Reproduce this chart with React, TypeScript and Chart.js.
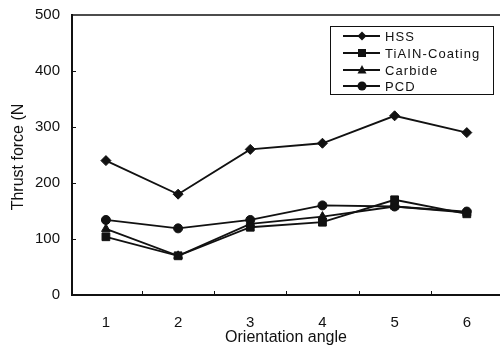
import React, { useEffect, useRef } from "react";
import { Chart, registerables } from "chart.js";

Chart.register(...registerables);

const categories = [1, 2, 3, 4, 5, 6];
const hss = [240, 180, 260, 271, 320, 290];
const tialn = [104, 70, 121, 130, 170, 145];
const carbide = [118, 70, 127, 140, 158, 147];
const pcd = [134, 119, 134, 160, 158, 149];
const yTicks = [0, 100, 200, 300, 400, 500];
const seriesNames = ["HSS", "TiAIN-Coating", "Carbide", "PCD"];
const xTitle = "Orientation angle";
const yTitle = "Thrust force (N";

const INK = "#111111";
const FONT = "'Liberation Sans', Arial, sans-serif";

function drawMarker(ctx: CanvasRenderingContext2D, style: string, x: number, y: number) {
  ctx.beginPath();
  if (style === "rectRot") {
    const r = 4.5;
    ctx.moveTo(x, y - r);
    ctx.lineTo(x + r, y);
    ctx.lineTo(x, y + r);
    ctx.lineTo(x - r, y);
    ctx.closePath();
  } else if (style === "rect") {
    ctx.rect(x - 4, y - 4, 8, 8);
  } else if (style === "triangle") {
    ctx.moveTo(x, y - 5);
    ctx.lineTo(x + 4.5, y + 3.5);
    ctx.lineTo(x - 4.5, y + 3.5);
    ctx.closePath();
  } else {
    ctx.arc(x, y, 4.5, 0, Math.PI * 2);
  }
  ctx.fill();
}

const decorPlugin = {
  id: "decor",
  afterDraw(chart: any) {
    const ctx: CanvasRenderingContext2D = chart.ctx;
    const { left, right, top, bottom } = chart.chartArea;
    const xs = chart.scales.x;
    const ys = chart.scales.y;
    ctx.save();
    ctx.strokeStyle = INK;
    ctx.fillStyle = INK;
    // top border
    ctx.lineWidth = 1.5;
    ctx.beginPath();
    ctx.moveTo(left, top);
    ctx.lineTo(right, top);
    ctx.stroke();
    // inward ticks
    ctx.lineWidth = 1;
    ctx.beginPath();
    for (const v of yTicks.slice(1, -1)) {
      const py = Math.round(ys.getPixelForValue(v)) + 0.5;
      ctx.moveTo(left, py);
      ctx.lineTo(left + 4, py);
    }
    for (let i = 0; i < categories.length - 1; i++) {
      const px = Math.round(xs.getPixelForValue((categories[i] + categories[i + 1]) / 2)) + 0.5;
      ctx.moveTo(px, bottom);
      ctx.lineTo(px, bottom - 4);
    }
    ctx.stroke();
    // axis titles
    ctx.font = `16px ${FONT}`;
    ctx.textAlign = "center";
    ctx.textBaseline = "middle";
    ctx.fillText(xTitle, (left + right) / 2, 338);
    ctx.save();
    ctx.translate(19, 157);
    ctx.rotate(-Math.PI / 2);
    ctx.fillText(yTitle, 0, 0);
    ctx.restore();
    // legend
    ctx.fillStyle = "#ffffff";
    ctx.fillRect(330, 26, 163, 68);
    ctx.strokeStyle = INK;
    ctx.lineWidth = 1;
    ctx.strokeRect(330.5, 26.5, 163, 68);
    const rows = [36, 53, 70, 86];
    ctx.font = `13px ${FONT}`;
    (ctx as any).letterSpacing = "1.1px";
    ctx.textAlign = "left";
    chart.data.datasets.forEach((ds: any, i: number) => {
      const y = rows[i];
      ctx.strokeStyle = INK;
      ctx.fillStyle = INK;
      ctx.lineWidth = 1.8;
      ctx.beginPath();
      ctx.moveTo(343, y);
      ctx.lineTo(380, y);
      ctx.stroke();
      drawMarker(ctx, ds.pointStyle, 362, y);
      ctx.fillText(ds.label, 385, y + 1);
    });
    ctx.restore();
  },
};

export default function App() {
  const ref = useRef<HTMLCanvasElement | null>(null);
  useEffect(() => {
    if (!ref.current) return;
    const mk = (label: string, data: number[], pointStyle: string, radius: number) => ({
      label,
      data: categories.map((c, i) => ({ x: c, y: data[i] })),
      borderColor: INK,
      backgroundColor: INK,
      borderWidth: 1.8,
      pointStyle,
      pointRadius: radius,
      pointBorderWidth: 1,
      tension: 0,
    });
    const chart = new Chart(ref.current, {
      type: "line",
      data: {
        datasets: [
          mk(seriesNames[0], hss, "rectRot", 5),
          mk(seriesNames[1], tialn, "rect", 5.5),
          mk(seriesNames[2], carbide, "triangle", 5),
          mk(seriesNames[3], pcd, "circle", 4.5),
        ] as any,
      },
      options: {
        animation: false,
        responsive: false,
        maintainAspectRatio: false,
        devicePixelRatio: 1,
        layout: { autoPadding: false, padding: { top: 15, left: 0, right: 0, bottom: 0 } },
        plugins: { legend: { display: false }, tooltip: { enabled: false } },
        scales: {
          x: {
            type: "linear",
            min: 0.53,
            max: 6.46,
            afterBuildTicks: (s: any) => {
              s.ticks = categories.map((v) => ({ value: v }));
            },
            afterFit: (s: any) => {
              s.height = 52;
              s.paddingLeft = 0;
              s.paddingRight = 0;
              s.paddingTop = 0;
              s.paddingBottom = 0;
            },
            grid: { display: false, drawTicks: false },
            border: { display: true, color: INK, width: 2 },
            ticks: {
              color: INK,
              font: { family: FONT, size: 15 },
              padding: 19,
              autoSkip: false,
              maxRotation: 0,
            },
          },
          y: {
            min: 0,
            max: 500,
            afterBuildTicks: (s: any) => {
              s.ticks = yTicks.map((v) => ({ value: v }));
            },
            afterFit: (s: any) => {
              s.width = 72;
              s.paddingLeft = 0;
              s.paddingRight = 0;
              s.paddingTop = 0;
              s.paddingBottom = 0;
            },
            grid: { display: false, drawTicks: false },
            border: { display: true, color: INK, width: 2 },
            ticks: {
              color: INK,
              font: { family: FONT, size: 15 },
              padding: 12,
            },
          },
        },
      } as any,
      plugins: [decorPlugin],
    });
    return () => chart.destroy();
  }, []);
  return (
    <div style={{ position: "absolute", left: 0, top: 0, width: 500, height: 347, overflow: "hidden", background: "#fff" }}>
      <canvas ref={ref} width={500} height={347} style={{ display: "block" }} />
    </div>
  );
}
